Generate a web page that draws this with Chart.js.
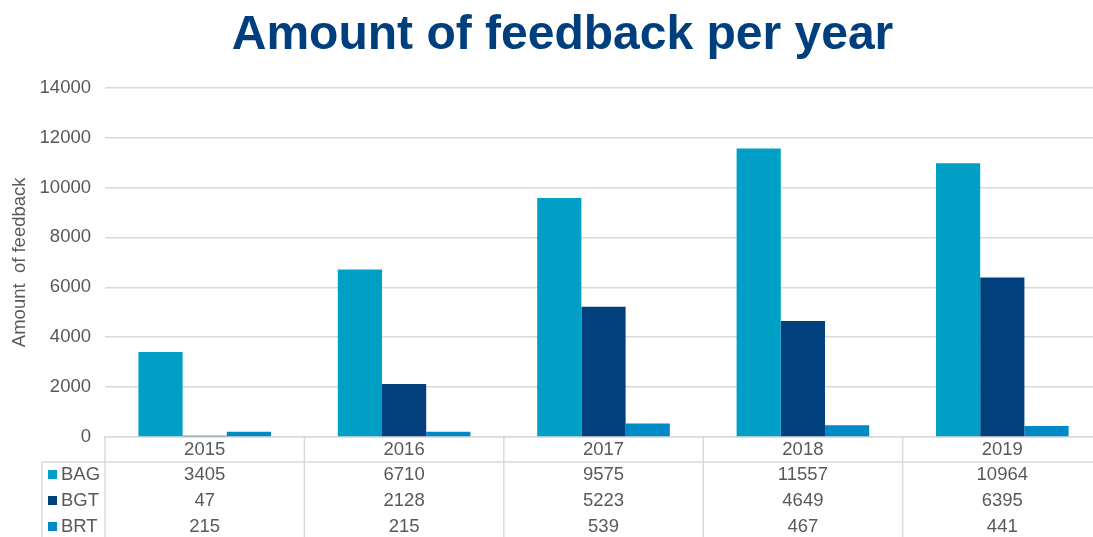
<!DOCTYPE html>
<html>
<head>
<meta charset="utf-8">
<script src="https://cdn.jsdelivr.net/npm/chart.js@4/dist/chart.umd.min.js"></script>
<style>
  html, body { margin: 0; padding: 0; background: #fff; overflow: hidden; }
  #wrap { position: relative; width: 1125px; height: 537px; }
</style>
</head>
<body>
<div id="wrap"><canvas id="grafico"></canvas></div>
<script>
const anos = ["2015", "2016", "2017", "2018", "2019"];
const bag = [3405, 6710, 9575, 11557, 10964];
const bgt = [47, 2128, 5223, 4649, 6395];
const brt = [215, 215, 539, 467, 441];
const nomesSeries = ["BAG", "BGT", "BRT"];
const cores = ["#00a0c6", "#01407d", "#0089c7"];

const cinzaTexto = "#595959";
const cinzaLinha = "#d9d9d9";
const fonte = "'Liberation Sans', Arial, sans-serif";
const tamTexto = 18.5;

// tabela de dados embaixo do grafico (como no Excel)
const tabelaPlugin = {
  id: "tabela",
  afterDraw(chart) {
    const ctx = chart.ctx;
    const x = chart.scales.x;
    const area = chart.chartArea;
    const topo = area.bottom;
    const linhaCab = topo + 25;
    const alturaLinha = 26;
    const esq = 42;
    const dados = [bag, bgt, brt];
    const meia = (x.getPixelForValue(1) - x.getPixelForValue(0)) / 2;

    ctx.save();
    ctx.strokeStyle = cinzaLinha;
    ctx.lineWidth = 1.5;
    ctx.beginPath();
    ctx.moveTo(esq, linhaCab);
    ctx.lineTo(chart.width, linhaCab);
    ctx.moveTo(esq, linhaCab);
    ctx.lineTo(esq, chart.height);
    for (let i = 0; i <= anos.length; i++) {
      const px = x.getPixelForValue(0) - meia + i * meia * 2;
      ctx.moveTo(px, topo);
      ctx.lineTo(px, chart.height);
    }
    ctx.stroke();

    ctx.font = tamTexto + "px " + fonte;
    ctx.fillStyle = cinzaTexto;
    ctx.textAlign = "center";
    ctx.textBaseline = "middle";
    anos.forEach((a, i) => {
      ctx.fillText(a, x.getPixelForValue(i), topo + 13);
    });
    dados.forEach((serie, s) => {
      const y = linhaCab + 13 + s * alturaLinha;
      serie.forEach((v, i) => {
        ctx.fillStyle = cinzaTexto;
        ctx.textAlign = "center";
        ctx.fillText(String(v), x.getPixelForValue(i), y);
      });
      ctx.fillStyle = cores[s];
      ctx.fillRect(48, y - 5, 9, 9);
      ctx.fillStyle = cinzaTexto;
      ctx.textAlign = "left";
      ctx.fillText(nomesSeries[s], 61, y);
    });
    ctx.restore();
  }
};

const ctx = document.getElementById("grafico");
const grafico = new Chart(ctx, {
  type: "bar",
  data: {
    labels: anos,
    datasets: [
      { label: nomesSeries[0], data: bag, backgroundColor: cores[0] },
      { label: nomesSeries[1], data: bgt, backgroundColor: cores[1] },
      { label: nomesSeries[2], data: brt, backgroundColor: cores[2] },
    ],
  },
  options: {
    responsive: true,
    maintainAspectRatio: false,
    animation: false,
    layout: { padding: { left: 23, right: 23, top: 0, bottom: 0 } },
    datasets: {
      bar: { barPercentage: 1, categoryPercentage: 0.665 },
    },
    plugins: {
      legend: { display: false },
      tooltip: { enabled: false },
      title: {
        display: true,
        text: "Amount of feedback per year",
        color: "#003f7d",
        font: { family: fonte, size: 48, weight: "bold" },
        padding: { top: 7, bottom: 23 },
      },
    },
    scales: {
      x: {
        grid: { display: false },
        border: { display: true, color: cinzaLinha, width: 1.5 },
        ticks: { display: false },
        afterFit(scale) { scale.height = 100; },
      },
      y: {
        min: 0,
        max: 14000,
        ticks: {
          stepSize: 2000,
          color: cinzaTexto,
          font: { family: fonte, size: tamTexto },
          padding: 14,
          callback: (v) => String(v),
        },
        grid: { color: cinzaLinha, lineWidth: 1.5, drawTicks: false },
        border: { display: false },
        title: {
          display: true,
          text: "Amount  of feedback",
          color: cinzaTexto,
          font: { family: fonte, size: tamTexto },
          padding: { top: -14, bottom: 0 },
        },
        afterFit(scale) { scale.width = 82; },
      },
    },
  },
  plugins: [tabelaPlugin],
});
</script>
</body>
</html>
